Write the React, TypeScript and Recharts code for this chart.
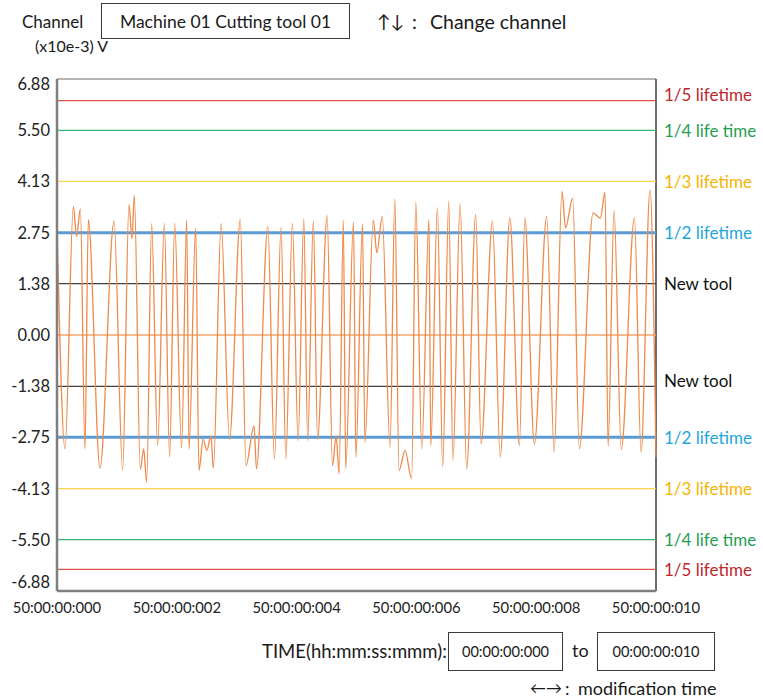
import { LineChart, Line, XAxis, YAxis, ReferenceLine } from "recharts";

// time in ms, voltage in x10e-3 V (peaks, troughs and small wiggles)
const T_MS = [
  0, 0.134, 0.273, 0.328, 0.39, 0.467, 0.523, 0.718, 0.952, 1.096, 1.202, 1.252, 1.291, 1.391, 1.447, 1.497,
  1.58, 1.68, 1.792, 1.88, 1.965, 2.08, 2.165, 2.204, 2.315, 2.37, 2.44, 2.5, 2.57, 2.61, 2.74, 2.88, 3.06,
  3.155, 3.29, 3.33, 3.52, 3.63, 3.74, 3.82, 3.93, 4.025, 4.12, 4.185, 4.28, 4.35, 4.51, 4.6, 4.66, 4.71,
  4.78, 4.82, 4.95, 4.99, 5.1, 5.14, 5.28, 5.34, 5.43, 5.56, 5.64, 5.71, 5.81, 5.92, 5.99, 6.09, 6.21, 6.24,
  6.35, 6.44, 6.54, 6.61, 6.73, 6.84, 6.99, 7.08, 7.27, 7.4, 7.56, 7.72, 7.81, 7.97, 8.175, 8.3, 8.43, 8.49,
  8.61, 8.72, 8.95, 9.07, 9.15, 9.2, 9.3, 9.42, 9.64, 9.75, 9.9, 10,
];
const VOLT = [
  2.95, -3.06, 3.45, 2.65, 3.39, -3.06, 3.1, -3.58, 3.06, -3.64, 3.51, 2.59, 3.75, -3.61, -3.06, -3.95,
  2.99, -2.97, 3.0, -3.28, 3.0, -3.04, 3.08, -3.06, 2.87, -3.64, -2.8, -3.1, -2.72, -3.58, 2.99, -2.8, 3.1,
  -3.51, -2.44, -3.6, 2.92, -3.33, 2.9, -3.33, 3.0, -2.84, 3.12, -2.84, 3.08, -2.8, 3.21, -3.51, -2.72, -3.73,
  3.08, -3.58, 3.03, -3.28, 2.99, -2.88, 3.08, 2.21, 3.19, -3.02, 3.66, -3.64, -3.1, -3.86, 3.57, -3.06, 3.1, -2.97,
  3.42, -3.55, 3.6, -3.37, 3.54, -3.6, 3.24, -2.93, 3.06, -3.28, 3.15, -2.97, 3.15, -2.93, 3.19, -3.15, 3.86, 2.88,
  3.68, -3.06, 3.28, 3.14, 3.83, -2.99, 3.35, -3.08, 3.15, -3.15, 3.9, -3.3,
];

const Y_TICKS = [6.88, 5.5, 4.13, 2.75, 1.38, 0, -1.38, -2.75, -4.13, -5.5, -6.88];
const X_TICKS = [0, 2, 4, 6, 8, 10];
const X_TICK_PREFIX = "50:00:00:";

const LIMIT_LEVELS = [6.3, 5.5, 4.13, 2.75, 1.38, -1.38, -2.75, -4.13, -5.5, -6.3];
const LIMIT_LABELS = [
  "1/5 lifetime", "1/4 life time", "1/3 lifetime", "1/2 lifetime", "New tool",
  "New tool", "1/2 lifetime", "1/3 lifetime", "1/4 life time", "1/5 lifetime",
];

const data = T_MS.map((t, i) => ({ t, v: VOLT[i] }));

const FONT = "Lato, 'Open Sans', sans-serif";

const LIMIT_STYLE: Record<string, { line: string; text: string; width: number }> = {
  "1/5 lifetime": { line: "#d9534f", text: "#c0272d", width: 1.3 },
  "1/4 life time": { line: "#3cb371", text: "#1fa050", width: 1.3 },
  "1/3 lifetime": { line: "#ffd34d", text: "#f5b400", width: 1.3 },
  "1/2 lifetime": { line: "#5b9bd5", text: "#1ca6e0", width: 3 },
  "New tool": { line: "#404040", text: "#111", width: 1.3 },
};

function YTick({ x, y, payload }: any) {
  const v = payload.value as number;
  const shift = v === 6.88 ? 5 : v === -6.88 ? -9 : 0;
  return (
    <text x={x} y={y + shift} textAnchor="end" dominantBaseline="central" fontSize={16.5} fill="#222" fontFamily={FONT}>
      {v.toFixed(2)}
    </text>
  );
}

function XTick({ x, y, payload }: any) {
  const v = payload.value as number;
  return (
    <text x={x} y={y + 8} textAnchor="middle" dominantBaseline="central" fontSize={14.8} fill="#222" fontFamily={FONT}>
      {X_TICK_PREFIX + String(v).padStart(3, "0")}
    </text>
  );
}

const abs = (left: number, top: number, fontSize: number, extra: any = {}) => ({
  position: "absolute" as const,
  left,
  top,
  fontSize,
  lineHeight: `${fontSize}px`,
  whiteSpace: "nowrap" as const,
  color: "#1a1a1a",
  ...extra,
});

const boxStyle = (left: number, top: number, width: number, height: number) => ({
  position: "absolute" as const,
  left,
  top,
  width,
  height,
  border: "1px solid #3a3a3a",
  boxSizing: "border-box" as const,
  display: "flex",
  alignItems: "center",
  justifyContent: "center",
  whiteSpace: "nowrap" as const,
  color: "#1a1a1a",
});

export default function App() {
  return (
    <div style={{ position: "absolute", left: 0, top: 0, width: 763, height: 700, background: "#fff", fontFamily: FONT }}>
      <div style={abs(22, 13, 17)}>Channel</div>
      <div style={{ ...boxStyle(101, 3, 249, 36), fontSize: 17.5 }}>Machine 01 Cutting tool 01</div>
      <div style={abs(377, 12, 18)}>↑↓</div>
      <div style={abs(412, 12, 19.5)}>:</div>
      <div style={abs(430, 12, 19.5)}>Change channel</div>
      <div style={abs(35, 38, 16)}>(x10e-3) V</div>

      <div style={{ position: "absolute", left: 0, top: 0 }}>
        <LineChart width={763} height={700} data={data} margin={{ top: 79, right: 107, bottom: 79, left: 0 }}>
          <XAxis
            dataKey="t"
            type="number"
            domain={[0, 10]}
            ticks={X_TICKS}
            tick={<XTick />}
            tickLine={false}
            axisLine={{ stroke: "#7f7f7f", strokeWidth: 2.5 }}
            height={30}
          />
          <YAxis
            type="number"
            domain={[-6.88, 6.88]}
            ticks={Y_TICKS}
            interval={0}
            width={57}
            tick={<YTick />}
            tickLine={false}
            tickSize={5}
            tickMargin={2}
            axisLine={{ stroke: "#7f7f7f", strokeWidth: 2.5 }}
          />
          <ReferenceLine y={6.88} stroke="#6b6b6b" strokeWidth={1.2} />
          <ReferenceLine x={10} stroke="#3a3a3a" strokeWidth={1.5} />
          <ReferenceLine y={0} stroke="#f4a46a" strokeWidth={1.5} />
          {LIMIT_LEVELS.map((lv, i) => {
            const name = LIMIT_LABELS[i];
            const st = LIMIT_STYLE[name];
            const nudge = i === 0 ? -6 : i === 5 ? -6 : 0;
            return (
              <ReferenceLine
                key={i}
                y={lv}
                stroke={st.line}
                strokeWidth={st.width}
                label={(p: any) => (
                  <text
                    x={p.viewBox.x + p.viewBox.width + 8}
                    y={p.viewBox.y + nudge}
                    dominantBaseline="central"
                    fontSize={17}
                    fill={st.text}
                    fontFamily={FONT}
                  >
                    {name}
                  </text>
                )}
              />
            );
          })}
          <Line
            type="monotone"
            dataKey="v"
            stroke="#ee8a4a"
            strokeWidth={1.3}
            dot={false}
            isAnimationActive={false}
          />
        </LineChart>
      </div>

      <div style={abs(262, 642, 18.5)}>TIME(hh:mm:ss:mmm):</div>
      <div style={{ ...boxStyle(448, 632, 115, 39), fontSize: 14.6 }}>00:00:00:000</div>
      <div style={abs(572, 641, 18)}>to</div>
      <div style={{ ...boxStyle(597, 632, 118, 39), fontSize: 14.6 }}>00:00:00:010</div>
      <div style={abs(530, 680, 16)}>←→</div>
      <div style={abs(565, 679, 18)}>:</div>
      <div style={abs(578, 679, 18)}>modification time</div>
    </div>
  );
}
